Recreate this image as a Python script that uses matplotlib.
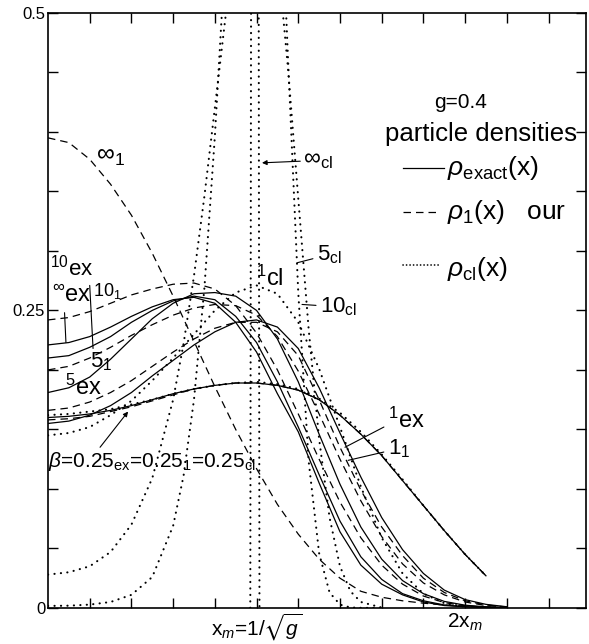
import matplotlib
matplotlib.use("Agg")
import matplotlib.pyplot as plt

plt.rcParams['font.family'] = ['Liberation Sans', 'DejaVu Sans']
plt.rcParams['mathtext.fontset'] = 'custom'
plt.rcParams['mathtext.rm'] = 'Liberation Sans'
plt.rcParams['mathtext.it'] = 'Liberation Sans:italic'
plt.rcParams['mathtext.fallback'] = 'stixsans'

# x in units of x_m = 1/sqrt(g), g = 0.4
u_q = [0.0, 0.1, 0.2, 0.3, 0.4, 0.5, 0.6, 0.7, 0.8, 0.9, 1.0, 1.1,
       1.2, 1.3, 1.4, 1.5, 1.6, 1.7, 1.8, 1.9, 2.0, 2.1, 2.2]

# exact densities (solid)
ex_inf = [0.221, 0.223, 0.228, 0.236, 0.245, 0.253, 0.259, 0.261, 0.256, 0.240, 0.215, 0.180,
          0.148, 0.105, 0.064, 0.036, 0.020, 0.011, 0.005, 0.002, 0.001, 0.0004, 0.0001]
ex_10 = [0.210, 0.212, 0.219, 0.228, 0.240, 0.250, 0.258, 0.262, 0.259, 0.245, 0.223, 0.190,
         0.152, 0.112, 0.073, 0.043, 0.024, 0.012, 0.006, 0.0025, 0.001, 0.0004, 0.0001]
ex_5 = [0.181, 0.185, 0.194, 0.209, 0.226, 0.243, 0.256, 0.264, 0.265, 0.262, 0.250, 0.226,
        0.190, 0.146, 0.104, 0.068, 0.041, 0.023, 0.012, 0.0055, 0.0023, 0.0009, 0.0003]
ex_1 = [0.155, 0.157, 0.162, 0.170, 0.181, 0.195, 0.208, 0.221, 0.232, 0.240, 0.242, 0.236,
        0.218, 0.185, 0.147, 0.110, 0.076, 0.049, 0.029, 0.015, 0.007, 0.003, 0.001]

# rho_1 approximation (dashed)
one_inf = [0.395, 0.391, 0.377, 0.356, 0.330, 0.298, 0.262, 0.224, 0.186, 0.150, 0.117, 0.087,
           0.062, 0.041, 0.025, 0.014, 0.009, 0.006, 0.004, 0.0025, 0.0015, 0.0008, 0.0003]
one_10 = [0.242, 0.244, 0.249, 0.256, 0.263, 0.268, 0.272, 0.273, 0.268, 0.254, 0.231, 0.200,
          0.163, 0.125, 0.089, 0.059, 0.036, 0.020, 0.010, 0.0045, 0.0018, 0.0006, 0.0002]
one_5 = [0.200, 0.203, 0.210, 0.219, 0.229, 0.238, 0.246, 0.252, 0.255, 0.254, 0.246, 0.228,
         0.199, 0.163, 0.125, 0.090, 0.060, 0.037, 0.021, 0.011, 0.005, 0.002, 0.0007]
one_1 = [0.166, 0.168, 0.173, 0.181, 0.191, 0.203, 0.215, 0.226, 0.235, 0.240, 0.240, 0.232,
         0.212, 0.175, 0.135, 0.099, 0.068, 0.044, 0.025, 0.013, 0.006, 0.0025, 0.0008]

# beta = 0.25: exact, rho_1 and classical almost coincide
u_025 = u_q[:22]
ex_025 = [0.160, 0.161, 0.163, 0.166, 0.170, 0.175, 0.180, 0.184, 0.187, 0.189, 0.189, 0.187,
          0.183, 0.175, 0.162, 0.146, 0.128, 0.107, 0.086, 0.065, 0.045, 0.027]
one_025 = [0.158, 0.159, 0.161, 0.165, 0.169, 0.174, 0.179, 0.184, 0.187, 0.189, 0.189, 0.187,
           0.183, 0.175, 0.162, 0.146, 0.128, 0.107, 0.086, 0.065, 0.045, 0.027]
cl_025 = [0.162, 0.163, 0.165, 0.167, 0.171, 0.175, 0.180, 0.184, 0.187, 0.189, 0.190, 0.188,
          0.184, 0.176, 0.164, 0.148, 0.129, 0.108, 0.086, 0.065, 0.045, 0.027]

# classical densities (dotted)
u_c1 = u_q[:21]
cl_1 = [0.145, 0.147, 0.152, 0.162, 0.174, 0.191, 0.210, 0.230, 0.250, 0.265, 0.271, 0.264,
        0.240, 0.201, 0.152, 0.102, 0.059, 0.029, 0.012, 0.004, 0.001]
u_c = [0.0, 0.1, 0.2, 0.3, 0.4, 0.5, 0.6, 0.65, 0.7, 0.75, 0.8, 0.85, 0.9, 0.95, 1.0,
       1.05, 1.1, 1.15, 1.2, 1.25, 1.3, 1.35, 1.4, 1.45, 1.5, 1.6]
cl_5 = [0.028, 0.030, 0.035, 0.047, 0.070, 0.109, 0.175, 0.222, 0.279, 0.346, 0.420, 0.495,
        0.563, 0.612, 0.630, 0.610, 0.549, 0.455, 0.344, 0.234, 0.142, 0.076, 0.035, 0.014,
        0.005, 0.0003]
cl_10 = [0.0017, 0.0019, 0.0028, 0.005, 0.011, 0.026, 0.069, 0.111, 0.175, 0.269, 0.396, 0.550,
         0.710, 0.838, 0.890, 0.833, 0.675, 0.465, 0.265, 0.123, 0.046, 0.013, 0.0028, 0.0004,
         0.0001, 0.0]
u_cinf = [0.970, 0.974, 0.993, 1.010, 1.014]
cl_inf = [0.0, 0.55, 6.0, 0.55, 0.0]

fig = plt.figure(figsize=(5.89, 6.44), dpi=100)
ax = fig.add_axes([0.0815, 0.056, 0.9135, 0.924])

solid = dict(color='k', lw=0.9, ls='-')
dashed = dict(color='k', lw=0.9, ls=(0, (6, 4)))
dotted = dict(color='k', lw=1.5, ls=(0, (0.1, 3.0)), dash_capstyle='round')

for ys in [ex_inf, ex_10, ex_5, ex_1]:
    ax.plot(u_q, ys, **solid)
ax.plot(u_025, ex_025, **solid)
for ys in [one_inf, one_10, one_5, one_1]:
    ax.plot(u_q, ys, **dashed)
ax.plot(u_025, one_025, **dashed)
ax.plot(u_c1, cl_1, **dotted)
ax.plot(u_c, cl_5, **dotted)
ax.plot(u_c, cl_10, **dotted)
ax.plot(u_cinf, cl_inf, **dotted)
ax.plot(u_025, cl_025, **dotted)

ax.set_xlim(0, 2.58)
ax.set_ylim(0, 0.5)
ax.set_xticks([1.0, 2.0])
ax.set_xticklabels([r'x$_m$=1/$\sqrt{g}$', r'2x$_m$'])
ax.set_xticks([0.2 * i for i in range(1, 13)], minor=True)
ax.set_yticks([0, 0.25, 0.5])
ax.set_yticklabels(['0', '0.25', '0.5'])
ax.set_yticks([0.05 * i for i in range(1, 10)], minor=True)
ax.tick_params(which='both', direction='in', top=True, right=True, length=7, width=1.0)
ax.tick_params(axis='x', labelsize=15, pad=3)
ax.tick_params(axis='y', labelsize=12, pad=2)
for s in ax.spines.values():
    s.set_linewidth(1.2)

ax.text(1.976, 0.425, 'g=0.4', fontsize=15, ha='center', va='center')
ax.text(2.537, 0.398, 'particle densities', fontsize=18.5, ha='right', va='center')
ax.plot([1.70, 1.90], [0.370, 0.370], **solid)
ax.text(1.914, 0.370, r'$\rho_{\rm exact}$(x)', fontsize=19, ha='left', va='center')
ax.plot([1.70, 1.88], [0.333, 0.333], **dashed)
ax.text(1.914, 0.333, r'$\rho_1$(x)   our', fontsize=19, ha='left', va='center')
ax.plot([1.70, 1.88], [0.288, 0.288], color='k', lw=1.2, ls=(0, (0.1, 2.0)),
        dash_capstyle='round')
ax.text(1.914, 0.285, r'$\rho_{\rm cl}$(x)', fontsize=19, ha='left', va='center')

ax.text(0.30, 0.380, r'$\infty_1$', fontsize=18, ha='center', va='center')
ax.annotate(r'$\infty_{\rm cl}$', xy=(1.026, 0.374), xytext=(1.223, 0.376),
            fontsize=17, ha='left', va='center',
            arrowprops=dict(arrowstyle='-|>', color='k', lw=0.8, mutation_scale=7,
                            shrinkA=0, shrinkB=0))
ax.annotate(r'5$_{\rm cl}$', xy=(1.194, 0.290), xytext=(1.29, 0.297),
            fontsize=16, ha='left', va='center',
            arrowprops=dict(arrowstyle='-', color='k', lw=0.8, shrinkA=1, shrinkB=0))
ax.annotate(r'10$_{\rm cl}$', xy=(1.218, 0.255), xytext=(1.305, 0.253),
            fontsize=16, ha='left', va='center',
            arrowprops=dict(arrowstyle='-', color='k', lw=0.8, shrinkA=1, shrinkB=0))
ax.text(1.065, 0.277, r'$^1$cl', fontsize=17, ha='center', va='center')
ax.text(0.01, 0.286, r'$^{10}$ex', fontsize=16, ha='left', va='center')
ax.annotate('', xy=(0.216, 0.218), xytext=(0.20, 0.271),
            arrowprops=dict(arrowstyle='-', color='k', lw=0.8, shrinkA=0, shrinkB=0))
ax.annotate(r'$^{\infty}$ex', xy=(0.086, 0.223), xytext=(0.02, 0.262),
            fontsize=17, ha='left', va='center',
            arrowprops=dict(arrowstyle='-', color='k', lw=0.8, shrinkA=2, shrinkB=0,
                            relpos=(0.3, 0.3)))
ax.text(0.215, 0.266, r'10$_1$', fontsize=13, ha='left', va='center')
ax.text(0.20, 0.207, r'5$_1$', fontsize=16, ha='left', va='center')
ax.text(0.08, 0.185, r'$^5$ex', fontsize=17, ha='left', va='center')
ax.annotate(r'$\beta$=0.25$_{\rm ex}$=0.25$_1$=0.25$_{\rm cl}$', xy=(0.384, 0.165),
            xytext=(0.0, 0.123), fontsize=15, ha='left', va='center',
            arrowprops=dict(arrowstyle='-|>', color='k', lw=0.8, mutation_scale=7,
                            shrinkA=0, shrinkB=0, relpos=(0.24, 1.0)))
ax.annotate(r'$^1$ex', xy=(1.424, 0.135), xytext=(1.63, 0.158),
            fontsize=17, ha='left', va='center',
            arrowprops=dict(arrowstyle='-', color='k', lw=0.8, shrinkA=1, shrinkB=0,
                            relpos=(0.0, 0.3)))
ax.annotate(r'1$_1$', xy=(1.439, 0.124), xytext=(1.63, 0.134),
            fontsize=16, ha='left', va='center',
            arrowprops=dict(arrowstyle='-', color='k', lw=0.8, shrinkA=1, shrinkB=0))

fig.savefig('out.png', dpi=100)
